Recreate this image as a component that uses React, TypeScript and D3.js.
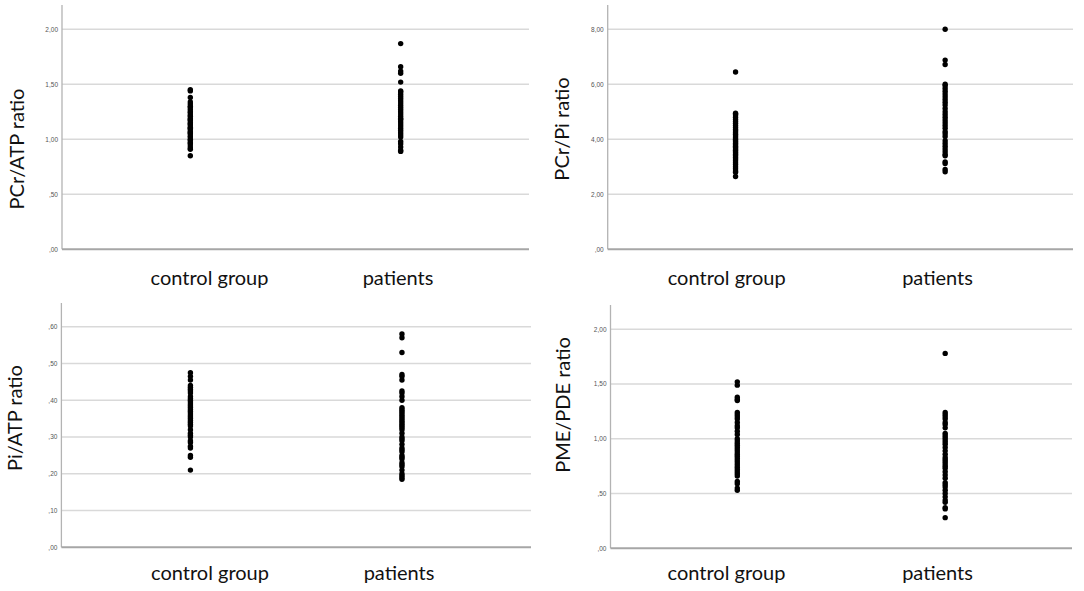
import * as d3 from 'd3';
import React from 'react';

const groups = ['control group', 'patients'];

const pcrAtpTicks = [0, 0.5, 1, 1.5, 2];
const pcrAtpControl = [1.45, 1.44, 1.38, 1.34, 1.32, 1.3, 1.29, 1.27, 1.25, 1.24, 1.22, 1.21, 1.19, 1.18, 1.17, 1.15, 1.14, 1.13, 1.11, 1.1, 1.09, 1.07, 1.06, 1.05, 1.03, 1.02, 1.0, 0.99, 0.97, 0.96, 0.94, 0.92, 0.91, 0.85];
const pcrAtpPatients = [1.87, 1.66, 1.62, 1.6, 1.52, 1.44, 1.43, 1.41, 1.39, 1.37, 1.35, 1.33, 1.31, 1.29, 1.27, 1.25, 1.23, 1.21, 1.19, 1.18, 1.16, 1.14, 1.12, 1.1, 1.08, 1.06, 1.04, 1.02, 0.98, 0.96, 0.93, 0.9, 0.89];

const pcrPiTicks = [0, 2, 4, 6, 8];
const pcrPiControl = [6.45, 4.95, 4.92, 4.88, 4.8, 4.72, 4.65, 4.58, 4.5, 4.43, 4.36, 4.3, 4.24, 4.18, 4.12, 4.06, 4.0, 3.95, 3.9, 3.85, 3.8, 3.75, 3.7, 3.65, 3.6, 3.55, 3.5, 3.45, 3.4, 3.34, 3.28, 3.22, 3.15, 3.08, 3.0, 2.93, 2.85, 2.8, 2.65];
const pcrPiPatients = [8.0, 6.88, 6.72, 6.0, 5.95, 5.85, 5.75, 5.65, 5.55, 5.45, 5.35, 5.25, 5.12, 5.0, 4.9, 4.8, 4.7, 4.6, 4.5, 4.4, 4.28, 4.2, 4.1, 3.95, 3.85, 3.75, 3.65, 3.55, 3.45, 3.4, 3.18, 3.12, 2.9, 2.82];

const piAtpTicks = [0, 0.1, 0.2, 0.3, 0.4, 0.5, 0.6];
const piAtpControl = [0.475, 0.465, 0.455, 0.44, 0.435, 0.43, 0.425, 0.42, 0.41, 0.405, 0.4, 0.395, 0.39, 0.385, 0.38, 0.375, 0.37, 0.365, 0.36, 0.355, 0.35, 0.345, 0.34, 0.335, 0.33, 0.32, 0.31, 0.305, 0.3, 0.29, 0.285, 0.275, 0.27, 0.25, 0.245, 0.21];
const piAtpPatients = [0.58, 0.57, 0.53, 0.47, 0.465, 0.455, 0.425, 0.42, 0.41, 0.4, 0.38, 0.375, 0.37, 0.365, 0.36, 0.355, 0.35, 0.345, 0.34, 0.335, 0.33, 0.325, 0.32, 0.31, 0.3, 0.295, 0.29, 0.28, 0.27, 0.265, 0.26, 0.25, 0.245, 0.24, 0.23, 0.225, 0.22, 0.21, 0.2, 0.195, 0.19, 0.185];

const pmePdeTicks = [0, 0.5, 1, 1.5, 2];
const pmePdeControl = [1.52, 1.49, 1.38, 1.36, 1.35, 1.24, 1.22, 1.2, 1.18, 1.15, 1.12, 1.1, 1.07, 1.04, 1.0, 0.98, 0.96, 0.94, 0.92, 0.9, 0.88, 0.86, 0.84, 0.82, 0.8, 0.78, 0.76, 0.74, 0.72, 0.7, 0.68, 0.66, 0.61, 0.59, 0.55, 0.53];
const pmePdePatients = [1.78, 1.24, 1.22, 1.2, 1.18, 1.15, 1.13, 1.1, 1.05, 1.03, 1.01, 0.99, 0.97, 0.95, 0.92, 0.89, 0.86, 0.83, 0.81, 0.79, 0.77, 0.75, 0.73, 0.7, 0.67, 0.64, 0.6, 0.58, 0.56, 0.53, 0.5, 0.47, 0.44, 0.42, 0.37, 0.36, 0.28];

// SPSS style: comma decimals, no leading zero
const fmt = (v: number) => d3.format('.2f')(v).replace('.', ',').replace(/^0/, '');

interface PanelProps {
  title: string;
  ticks: number[];
  series: number[][];
  left: number;
  right: number;
  top: number;
  bottom: number;
  maxY: number;
  titleX: number;
  titleY: number;
  labelX: number[];
  labelY: number;
}

const Panel: React.FC<PanelProps> = ({
  title, ticks, series, left, right, top, bottom, maxY, titleX, titleY, labelX, labelY,
}) => {
  const x = d3.scalePoint<string>().domain(groups).range([left, right]).padding(0.61);
  const y = d3.scaleLinear().domain([0, ticks[ticks.length - 1]]).range([bottom, maxY]);

  return (
    <g>
      {ticks.filter((t) => t > 0).map((t) => (
        <line key={t} x1={left} x2={right} y1={y(t)} y2={y(t)} stroke='#d9d9d9' strokeWidth={1.5} />
      ))}
      <line x1={left} x2={left} y1={top} y2={bottom} stroke='#b3b3b3' strokeWidth={1.3} />
      <line x1={left} x2={right} y1={bottom} y2={bottom} stroke='#a6a6a6' strokeWidth={2} />
      {ticks.map((t) => (
        <text key={t} x={left - 4} y={y(t)} dy='0.35em' textAnchor='end'
          fontFamily='Liberation Sans' fontSize={6.5} fill='#555'>{fmt(t)}</text>
      ))}
      {series.map((vals, gi) => vals.map((v, i) => (
        <circle key={gi + '-' + i} cx={x(groups[gi])} cy={y(v)} r={2.7} fill='#000' />
      )))}
      {groups.map((g, gi) => (
        <text key={g} x={labelX[gi]} y={labelY} textAnchor='middle'
          fontFamily='Lato' fontSize={20} fill='#111'>{g}</text>
      ))}
      <text transform={`translate(${titleX},${titleY}) rotate(-90)`} textAnchor='middle'
        fontFamily='Lato' fontSize={20} fill='#111'>{title}</text>
    </g>
  );
};

export default function App() {
  return (
    <svg width={1084} height={591} style={{ position: 'absolute', left: 0, top: 0, background: 'white' }}>
      <Panel title='PCr/ATP ratio' ticks={pcrAtpTicks} series={[pcrAtpControl, pcrAtpPatients]}
        left={62} right={529} top={5} bottom={249.3} maxY={29.3}
        titleX={24} titleY={149} labelX={[209.5, 398]} labelY={285} />
      <Panel title='PCr/Pi ratio' ticks={pcrPiTicks} series={[pcrPiControl, pcrPiPatients]}
        left={607.7} right={1073} top={5} bottom={249.3} maxY={29.3}
        titleX={569} titleY={129} labelX={[726.7, 937.5]} labelY={285} />
      <Panel title='Pi/ATP ratio' ticks={piAtpTicks} series={[piAtpControl, piAtpPatients]}
        left={61.4} right={531} top={303} bottom={547.3} maxY={326.7}
        titleX={22} titleY={418} labelX={[210, 399]} labelY={580} />
      <Panel title='PME/PDE ratio' ticks={pmePdeTicks} series={[pmePdeControl, pmePdePatients]}
        left={610.5} right={1072} top={305} bottom={548.3} maxY={329.3}
        titleX={569.5} titleY={405} labelX={[726.5, 937.5]} labelY={580} />
    </svg>
  );
}
